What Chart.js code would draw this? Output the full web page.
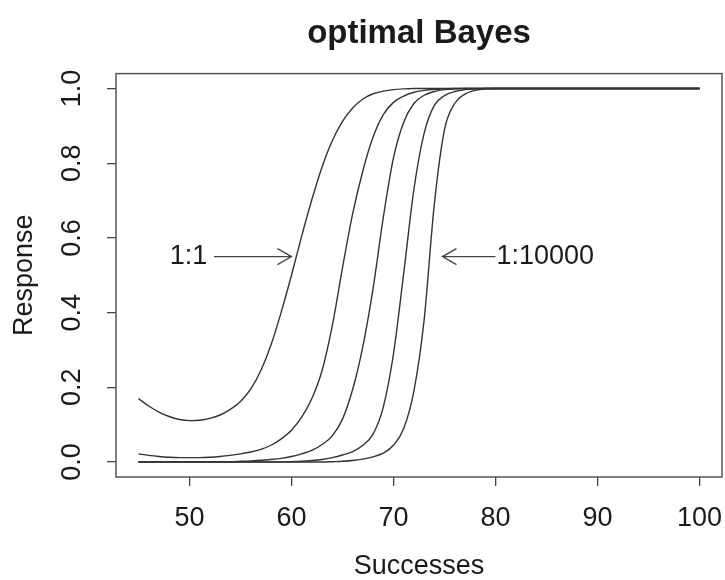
<!DOCTYPE html>
<html>
<head>
<meta charset="utf-8">
<script src="https://cdn.jsdelivr.net/npm/chart.js@4.4.1/dist/chart.umd.min.js"></script>
<style>
  html, body { margin: 0; padding: 0; background: #fff; }
  #wrap { width: 725px; height: 580px; }
</style>
</head>
<body>
<div id="wrap"><canvas id="myChart" width="725" height="580"></canvas></div>
<script>
// successes on the x axis
const successes = [45, 46, 47, 48, 49, 50, 51, 52, 53, 54, 55, 56, 57, 58, 59, 60, 61, 62, 63, 64,
  65, 66, 67, 68, 69, 70, 71, 72, 73, 74, 75, 76, 77, 78, 79, 80, 81, 82, 83, 84,
  85, 86, 87, 88, 89, 90, 91, 92, 93, 94, 95, 96, 97, 98, 99, 100]

// response for each prior odds
const odds1 = [0.17, 0.15, 0.134, 0.122, 0.114, 0.111, 0.112, 0.117, 0.126, 0.141, 0.162, 0.195, 0.245, 0.314, 0.402, 0.5, 0.605, 0.703, 0.79, 0.86,
  0.912, 0.948, 0.972, 0.986, 0.993, 0.997, 0.999, 1, 1, 1, 1, 1, 1, 1, 1, 1, 1, 1, 1, 1,
  1, 1, 1, 1, 1, 1, 1, 1, 1, 1, 1, 1, 1, 1, 1, 1]
const odds10 = [0.022, 0.018, 0.015, 0.013, 0.012, 0.012, 0.012, 0.013, 0.015, 0.018, 0.022, 0.027, 0.034, 0.045, 0.062, 0.085, 0.12, 0.17, 0.245, 0.365,
  0.52, 0.665, 0.78, 0.87, 0.93, 0.963, 0.98, 0.99, 0.995, 0.998, 0.999, 1, 1, 1, 1, 1, 1, 1, 1, 1,
  1, 1, 1, 1, 1, 1, 1, 1, 1, 1, 1, 1, 1, 1, 1, 1]
const odds100 = [0.001, 0.001, 0.001, 0.001, 0.001, 0.001, 0.001, 0.001, 0.001, 0.001, 0.002, 0.003, 0.005, 0.007, 0.01, 0.015, 0.022, 0.031, 0.047, 0.07,
  0.115, 0.195, 0.31, 0.465, 0.655, 0.815, 0.91, 0.96, 0.982, 0.992, 0.997, 0.999, 1, 1, 1, 1, 1, 1, 1, 1,
  1, 1, 1, 1, 1, 1, 1, 1, 1, 1, 1, 1, 1, 1, 1, 1]
const odds1000 = [0.0005, 0.0005, 0.0005, 0.0005, 0.0005, 0.0005, 0.0005, 0.0005, 0.0005, 0.0005, 0.0005, 0.0005, 0.0005, 0.0005, 0.0005, 0.001, 0.002, 0.004, 0.007, 0.012,
  0.019, 0.028, 0.045, 0.075, 0.147, 0.29, 0.505, 0.73, 0.88, 0.955, 0.981, 0.992, 0.997, 0.999, 1, 1, 1, 1, 1, 1,
  1, 1, 1, 1, 1, 1, 1, 1, 1, 1, 1, 1, 1, 1, 1, 1]
const odds10000 = [0.0002, 0.0002, 0.0002, 0.0002, 0.0002, 0.0002, 0.0002, 0.0002, 0.0002, 0.0002, 0.0002, 0.0002, 0.0002, 0.0002, 0.0002, 0.0002, 0.0002, 0.0002, 0.0002, 0.001,
  0.002, 0.004, 0.008, 0.014, 0.024, 0.045, 0.09, 0.19, 0.38, 0.69, 0.89, 0.96, 0.985, 0.995, 0.999, 1, 1, 1, 1, 1,
  1, 1, 1, 1, 1, 1, 1, 1, 1, 1, 1, 1, 1, 1, 1, 1]

const xTicks = [50, 60, 70, 80, 90, 100]
const yTicks = [0, 0.2, 0.4, 0.6, 0.8, 1.0]

// labels with arrows: [text, textX, arrowFrom, arrowTo, y]
const notes = [
  ['1:1', 49.9, 52.4, 60.0, 0.55],
  ['1:10000', 80.1, 80.0, 74.8, 0.55]
]

const FONT = "'Liberation Sans', Arial, Helvetica, sans-serif"
const INK = '#1a1a1a'

function serie(vals) {
  return {
    data: successes.map((s, i) => ({ x: s, y: vals[i] })),
    borderColor: '#333',
    borderWidth: 1.4,
    pointRadius: 0,
    fill: false,
    cubicInterpolationMode: 'monotone'
  }
}

const boxAndNotes = {
  id: 'boxAndNotes',
  afterDatasetsDraw(chart) {
    const { ctx, chartArea } = chart
    const xs = chart.scales.x
    const ys = chart.scales.y
    ctx.save()
    ctx.strokeStyle = '#555'
    ctx.lineWidth = 1.5
    ctx.strokeRect(chartArea.left, chartArea.top, chartArea.right - chartArea.left, chartArea.bottom - chartArea.top)

    ctx.font = '27px ' + FONT
    ctx.fillStyle = INK
    ctx.textBaseline = 'middle'
    ctx.strokeStyle = '#444'
    ctx.lineWidth = 1.3
    notes.forEach(n => {
      const py = ys.getPixelForValue(n[4])
      const tx = xs.getPixelForValue(n[1])
      const x0 = xs.getPixelForValue(n[2])
      const x1 = xs.getPixelForValue(n[3])
      ctx.textAlign = n[2] < n[3] ? 'center' : 'left'
      ctx.fillText(n[0], tx, py)
      const dir = x1 > x0 ? 1 : -1
      ctx.beginPath()
      ctx.moveTo(x0, py)
      ctx.lineTo(x1, py)
      ctx.moveTo(x1 - dir * 14, py - 8)
      ctx.lineTo(x1, py)
      ctx.lineTo(x1 - dir * 14, py + 8)
      ctx.stroke()
    })
    ctx.restore()
  }
}

const ctx = document.getElementById('myChart').getContext('2d')
const myChart = new Chart(ctx, {
  type: 'line',
  data: {
    datasets: [serie(odds1), serie(odds10), serie(odds100), serie(odds1000), serie(odds10000)]
  },
  options: {
    responsive: false,
    animation: false,
    layout: { padding: { left: 0, right: 3, top: 0, bottom: 0 } },
    plugins: {
      legend: { display: false },
      tooltip: { enabled: false },
      title: {
        display: true,
        fullSize: false,
        text: 'optimal Bayes',
        color: INK,
        font: { family: FONT, size: 33, weight: 'bold', lineHeight: 1.2 },
        padding: { top: 14, bottom: 20 }
      }
    },
    scales: {
      x: {
        type: 'linear',
        min: 42.8,
        max: 102.2,
        afterBuildTicks: s => { s.ticks = xTicks.map(v => ({ value: v })) },
        afterFit: s => { s.height = 103; s.paddingLeft = 0; s.paddingRight = 0 },
        border: { display: false },
        grid: { drawOnChartArea: false, drawTicks: true, tickLength: 9, tickColor: '#444', lineWidth: 1.3 },
        ticks: {
          color: INK,
          font: { family: FONT, size: 27, lineHeight: 1.2 },
          padding: 16,
          maxRotation: 0,
          autoSkip: false,
          callback: v => String(v)
        },
        title: {
          display: true,
          text: 'Successes',
          color: INK,
          font: { family: FONT, size: 27, lineHeight: 1 },
          padding: { top: 0, bottom: 0 }
        }
      },
      y: {
        type: 'linear',
        min: -0.04,
        max: 1.04,
        afterBuildTicks: s => { s.ticks = yTicks.map(v => ({ value: v })) },
        afterFit: s => { s.width = 116; s.paddingTop = 0; s.paddingBottom = 0 },
        border: { display: false },
        grid: { drawOnChartArea: false, drawTicks: true, tickLength: 9, tickColor: '#444', lineWidth: 1.3 },
        ticks: {
          color: INK,
          font: { family: FONT, size: 27, lineHeight: 1.2 },
          minRotation: 90,
          maxRotation: 90,
          crossAlign: 'center',
          padding: 16,
          autoSkip: false,
          callback: v => v.toFixed(1)
        },
        title: {
          display: true,
          text: 'Response',
          color: INK,
          font: { family: FONT, size: 27, lineHeight: 1 },
          padding: { top: 11, bottom: 0 }
        }
      }
    }
  },
  plugins: [boxAndNotes]
})
</script>
</body>
</html>
